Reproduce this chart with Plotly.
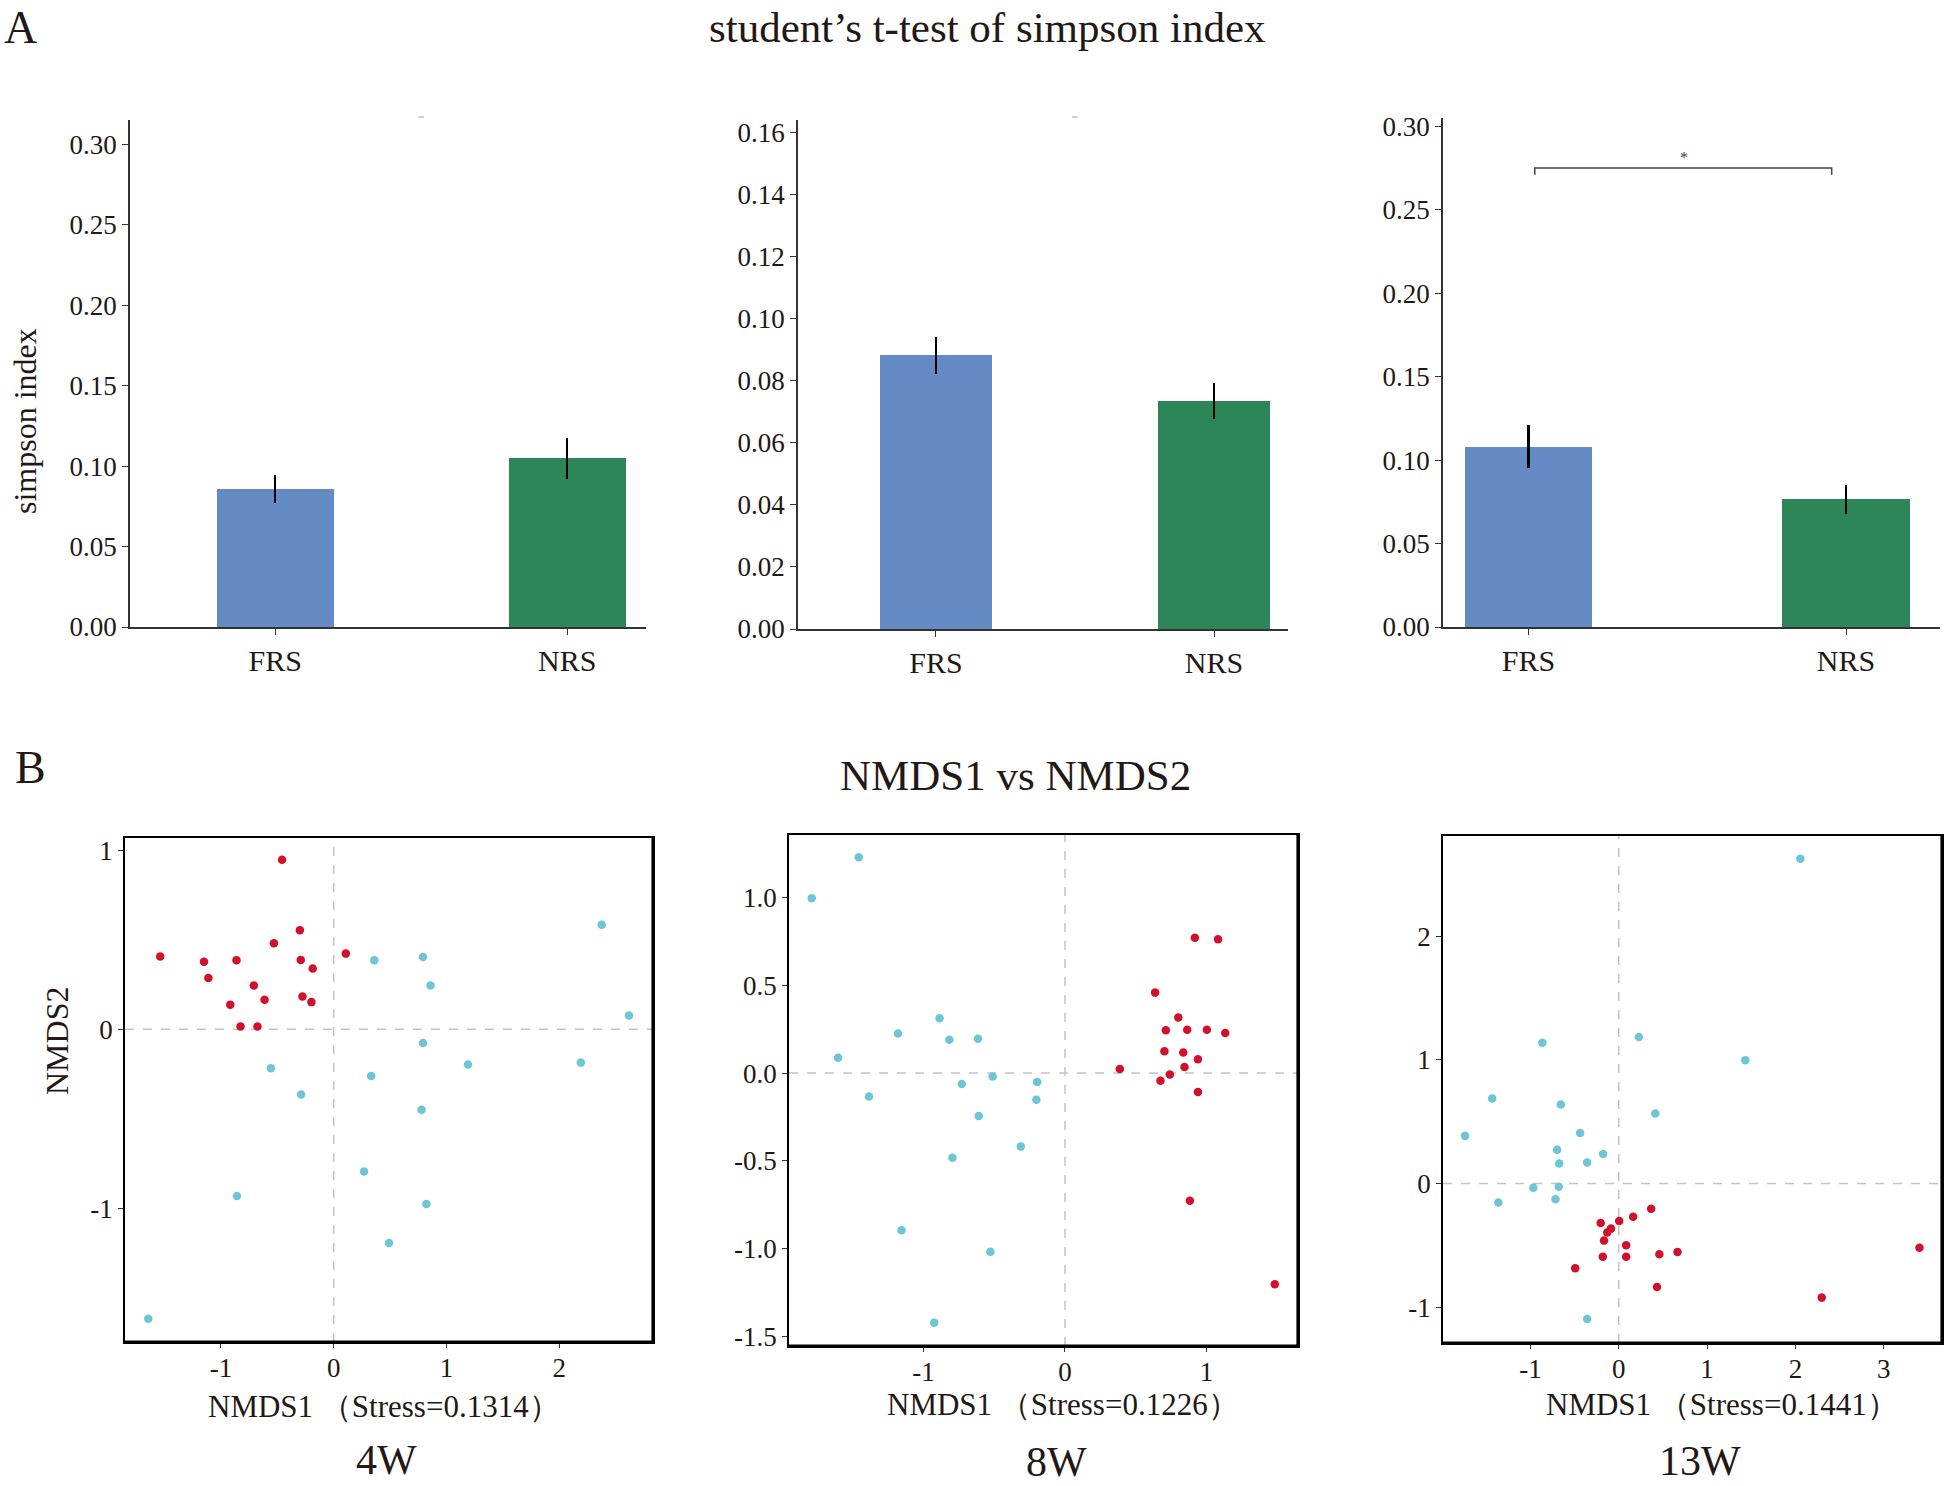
import plotly.graph_objects as go

# ---------------- data ----------------
groups = ["FRS", "NRS"]
simpson_4w = [0.0857, 0.1048]
simpson_4w_err = [0.0085, 0.0126]
simpson_8w = [0.0882, 0.0735]
simpson_8w_err = [0.0059, 0.0058]
simpson_13w = [0.108, 0.0766]
simpson_13w_err = [0.013, 0.0086]

# NMDS 4W
w4_red_x = [-0.458, -0.300, -0.530, -1.538, -1.150, -0.862, -0.292, 0.107, -1.111, -0.186, -0.708, -0.613, -0.277, -0.198, -0.917, -0.826, -0.676]
w4_red_y = [0.947, 0.553, 0.481, 0.407, 0.378, 0.386, 0.388, 0.423, 0.287, 0.340, 0.245, 0.165, 0.184, 0.152, 0.138, 0.016, 0.016]
w4_cyan_x = [2.375, 0.360, 0.791, 0.858, 2.617, 0.791, -0.557, 1.190, 2.190, 0.332, -0.289, 0.779, 0.269, -0.858, 0.822, 0.490, -1.644]
w4_cyan_y = [0.585, 0.386, 0.404, 0.245, 0.077, -0.077, -0.218, -0.197, -0.186, -0.261, -0.364, -0.449, -0.795, -0.931, -0.976, -1.194, -1.617]

# NMDS 8W
w8_cyan_x = [-1.457, -1.789, -0.886, -1.180, -0.817, -0.615, -1.603, -0.511, -0.729, -0.196, -1.385, -0.202, -0.609, -0.312, -0.795, -1.155, -0.527, -0.924]
w8_cyan_y = [1.228, 0.995, 0.312, 0.225, 0.190, 0.195, 0.087, -0.019, -0.062, -0.051, -0.133, -0.152, -0.244, -0.417, -0.482, -0.894, -1.016, -1.420]
w8_red_x = [0.918, 1.082, 0.637, 0.801, 0.713, 0.864, 1.003, 1.133, 0.703, 0.836, 0.940, 0.845, 0.388, 0.741, 0.675, 0.940, 0.883, 1.483]
w8_red_y = [0.770, 0.762, 0.458, 0.317, 0.244, 0.247, 0.247, 0.228, 0.125, 0.117, 0.079, 0.035, 0.024, -0.008, -0.043, -0.108, -0.726, -1.201]

# NMDS 13W
w13_cyan_x = [2.056, -0.865, 0.228, 1.433, -1.433, -0.656, 0.414, -1.740, -0.437, -0.698, -0.177, -0.674, -0.358, -0.967, -0.679, -0.716, -1.363, -0.358]
w13_cyan_y = [2.627, 1.138, 1.185, 0.996, 0.688, 0.638, 0.565, 0.385, 0.408, 0.273, 0.238, 0.162, 0.169, -0.035, -0.027, -0.127, -0.154, -1.096]
w13_red_x = [0.367, 0.163, 0.005, -0.205, -0.088, -0.130, -0.167, 0.084, 3.405, 0.665, 0.460, -0.181, 0.084, -0.493, 0.433, 2.298]
w13_red_y = [-0.204, -0.269, -0.304, -0.319, -0.365, -0.396, -0.462, -0.500, -0.519, -0.554, -0.573, -0.592, -0.592, -0.685, -0.838, -0.923]

# tick labels (hyphen-minus as in the original)
w4_xticks = [-1, 0, 1, 2]
w4_xtext = ["-1", "0", "1", "2"]
w4_yticks = [1, 0, -1]
w4_ytext = ["1", "0", "-1"]
w8_xticks = [-1, 0, 1]
w8_xtext = ["-1", "0", "1"]
w8_yticks = [1.0, 0.5, 0.0, -0.5, -1.0, -1.5]
w8_ytext = ["1.0", "0.5", "0.0", "-0.5", "-1.0", "-1.5"]
w13_xticks = [-1, 0, 1, 2, 3]
w13_xtext = ["-1", "0", "1", "2", "3"]
w13_yticks = [2, 1, 0, -1]
w13_ytext = ["2", "1", "0", "-1"]

stress_labels = ["NMDS1 （Stress=0.1314）", "NMDS1 （Stress=0.1226）", "NMDS1 （Stress=0.1441）"]
week_labels = ["4W", "8W", "13W"]

# ---------------- style ----------------
W, H = 1944, 1486
FONT = "Liberation Serif"
TXT = "#231815"
BLUE = "#658BC4"
GREEN = "#2D8657"
RED = "#D2102C"
CYAN = "#6CC6D6"


def px(x):
    return x / W


def py(y):
    return 1 - y / H


fig = go.Figure()

bar_sets = [(simpson_4w, simpson_4w_err), (simpson_8w, simpson_8w_err), (simpson_13w, simpson_13w_err)]
for i, (vals, errs) in enumerate(bar_sets):
    n = i + 1
    fig.add_trace(go.Bar(
        x=[0, 1], y=vals, width=0.4,
        marker=dict(color=[BLUE, GREEN], line=dict(width=0)),
        error_y=dict(type="data", array=errs, color="black", thickness=2.2, width=0),
        xaxis=f"x{n}", yaxis=f"y{n}", showlegend=False,
    ))

scatter_sets = [
    (w4_red_x, w4_red_y, w4_cyan_x, w4_cyan_y),
    (w8_red_x, w8_red_y, w8_cyan_x, w8_cyan_y),
    (w13_red_x, w13_red_y, w13_cyan_x, w13_cyan_y),
]
for i, (rx, ry, cx, cy) in enumerate(scatter_sets):
    n = i + 4
    fig.add_trace(go.Scatter(x=cx, y=cy, mode="markers", marker=dict(color=CYAN, size=8.5),
                             xaxis=f"x{n}", yaxis=f"y{n}", showlegend=False))
    fig.add_trace(go.Scatter(x=rx, y=ry, mode="markers", marker=dict(color=RED, size=8.5),
                             xaxis=f"x{n}", yaxis=f"y{n}", showlegend=False))

tickfont = dict(family=FONT, size=27, color=TXT)

# bar panel axes
bar_dom = [
    ((130, 646), (627, 120), [-0.497, 1.27], [0, 0.315], 0.05),
    ((798, 1288), (629, 120), [-0.496, 1.266], [0, 0.164], 0.02),
    ((1443, 1940), (627, 118), [-0.269, 1.296], [0, 0.305], 0.05),
]
layout = {}
for i, ((x0, x1), (yb, yt), xr, yr, dt) in enumerate(bar_dom):
    n = i + 1
    layout[f"xaxis{n}"] = dict(
        domain=[px(x0), px(x1)], range=xr, anchor=f"y{n}",
        tickvals=[0, 1], ticktext=groups, showline=True, linecolor="#333", linewidth=1.5,
        ticks="outside", ticklen=6, tickcolor="#333", showgrid=False, zeroline=False,
        tickfont=dict(family=FONT, size=30, color=TXT), fixedrange=True,
    )
    layout[f"yaxis{n}"] = dict(
        domain=[py(yb), py(yt)], range=yr, anchor=f"x{n}",
        dtick=dt, tick0=0, tickformat=".2f", showline=True, linecolor="#333", linewidth=1.5,
        ticks="outside", ticklen=6, tickcolor="#333", showgrid=False, zeroline=False,
        tickfont=tickfont,
    )

# scatter panel axes
sc_dom = [
    ((125, 653), (1342, 838), [-1.85, 2.83], [-1.747, 1.069], w4_xticks, w4_xtext, w4_yticks, w4_ytext),
    ((789, 1298), (1346, 835), [-1.95, 1.647], [-1.553, 1.355], w8_xticks, w8_xtext, w8_yticks, w8_ytext),
    ((1443, 1942), (1343, 836), [-1.99, 3.66], [-1.29, 2.81], w13_xticks, w13_xtext, w13_yticks, w13_ytext),
]
for i, ((x0, x1), (yb, yt), xr, yr, xtv, xtt, ytv, ytt) in enumerate(sc_dom):
    n = i + 4
    layout[f"xaxis{n}"] = dict(
        domain=[px(x0), px(x1)], range=xr, anchor=f"y{n}", tickvals=xtv, ticktext=xtt,
        showline=True, mirror=True, linecolor="black", linewidth=1.8,
        ticks="outside", ticklen=4, tickcolor="#333", showgrid=False, zeroline=False,
        tickfont=tickfont, ticklabelstandoff=-3,
    )
    layout[f"yaxis{n}"] = dict(
        domain=[py(yb), py(yt)], range=yr, anchor=f"x{n}", tickvals=ytv, ticktext=ytt,
        showline=True, mirror=True, linecolor="black", linewidth=1.8,
        ticks="outside", ticklen=5, tickcolor="#333", showgrid=False, zeroline=False,
        tickfont=tickfont,
    )

shapes = []
for n in (4, 5, 6):
    # dashed zero lines
    shapes.append(dict(type="line", xref=f"x{n}", yref=f"y{n} domain", x0=0, x1=0, y0=0, y1=1,
                       line=dict(color="#C4C4C4", width=1.5, dash="dash"), layer="below"))
    shapes.append(dict(type="line", xref=f"x{n} domain", yref=f"y{n}", x0=0, x1=1, y0=0, y1=0,
                       line=dict(color="#C4C4C4", width=1.5, dash="dash"), layer="below"))
    # heavier bottom and right frame edges
    shapes.append(dict(type="line", xref=f"x{n} domain", yref=f"y{n} domain", x0=0, x1=1, y0=0, y1=0,
                       line=dict(color="black", width=3.2)))
    shapes.append(dict(type="line", xref=f"x{n} domain", yref=f"y{n} domain", x0=1, x1=1, y0=0, y1=1,
                       line=dict(color="black", width=3.2)))

# significance bracket on 13W bar panel
sig_y = 0.275
sig_drop = 0.004
shapes.append(dict(type="path", xref="x3", yref="y3",
                   path=f"M 0.02 {sig_y - sig_drop} L 0.02 {sig_y} L 0.955 {sig_y} L 0.955 {sig_y - sig_drop}",
                   line=dict(color="#444", width=1.5)))
# tiny grey marks at top of the first two bar panels
for n in (1, 2):
    shapes.append(dict(type="line", xref=f"x{n}", yref="paper", x0=0.49, x1=0.51,
                       y0=py(117), y1=py(117), line=dict(color="#AAAAAA", width=1.2)))

annotations = [
    dict(text="A", x=px(20), y=py(27), xref="paper", yref="paper", xanchor="center", yanchor="middle",
         showarrow=False, font=dict(family=FONT, size=46, color=TXT)),
    dict(text="B", x=px(30), y=py(767), xref="paper", yref="paper", xanchor="center", yanchor="middle",
         showarrow=False, font=dict(family=FONT, size=46, color=TXT)),
    dict(text="student’s t-test of simpson index", x=px(988), y=py(27), xref="paper", yref="paper",
         xanchor="center", yanchor="middle", showarrow=False, font=dict(family=FONT, size=43, color=TXT)),
    dict(text="NMDS1 vs NMDS2", x=px(1016), y=py(775), xref="paper", yref="paper",
         xanchor="center", yanchor="middle", showarrow=False, font=dict(family=FONT, size=43, color=TXT)),
    dict(text="simpson index", x=px(25), y=py(421), xref="paper", yref="paper", textangle=-90,
         xanchor="center", yanchor="middle", showarrow=False, font=dict(family=FONT, size=32, color=TXT)),
    dict(text="NMDS2", x=px(57), y=py(1041), xref="paper", yref="paper", textangle=-90,
         xanchor="center", yanchor="middle", showarrow=False, font=dict(family=FONT, size=32, color=TXT)),
    dict(text="*", x=0.49, y=sig_y, xref="x3", yref="y3", xanchor="center", yanchor="bottom",
         showarrow=False, font=dict(family=FONT, size=16, color="#444")),
]
stress_pos = [(384, 1406), (1063, 1404), (1722, 1404)]
week_pos = [(386, 1460), (1056, 1462), (1700, 1461)]
for lbl, (x, y) in zip(stress_labels, stress_pos):
    annotations.append(dict(text=lbl, x=px(x), y=py(y), xref="paper", yref="paper", xanchor="center",
                            yanchor="middle", showarrow=False, font=dict(family=FONT, size=31, color=TXT)))
for lbl, (x, y) in zip(week_labels, week_pos):
    annotations.append(dict(text=lbl, x=px(x), y=py(y), xref="paper", yref="paper", xanchor="center",
                            yanchor="middle", showarrow=False, font=dict(family=FONT, size=42, color=TXT)))

fig.update_layout(
    width=W, height=H, margin=dict(l=0, r=0, t=0, b=0, autoexpand=False),
    paper_bgcolor="white", plot_bgcolor="white",
    font=dict(family=FONT, color=TXT),
    shapes=shapes, annotations=annotations, showlegend=False, bargap=0,
    **layout,
)

fig.write_html("out.html", config={"displayModeBar": False},
               post_script="document.body.style.margin='0';document.body.style.overflow='hidden';")
